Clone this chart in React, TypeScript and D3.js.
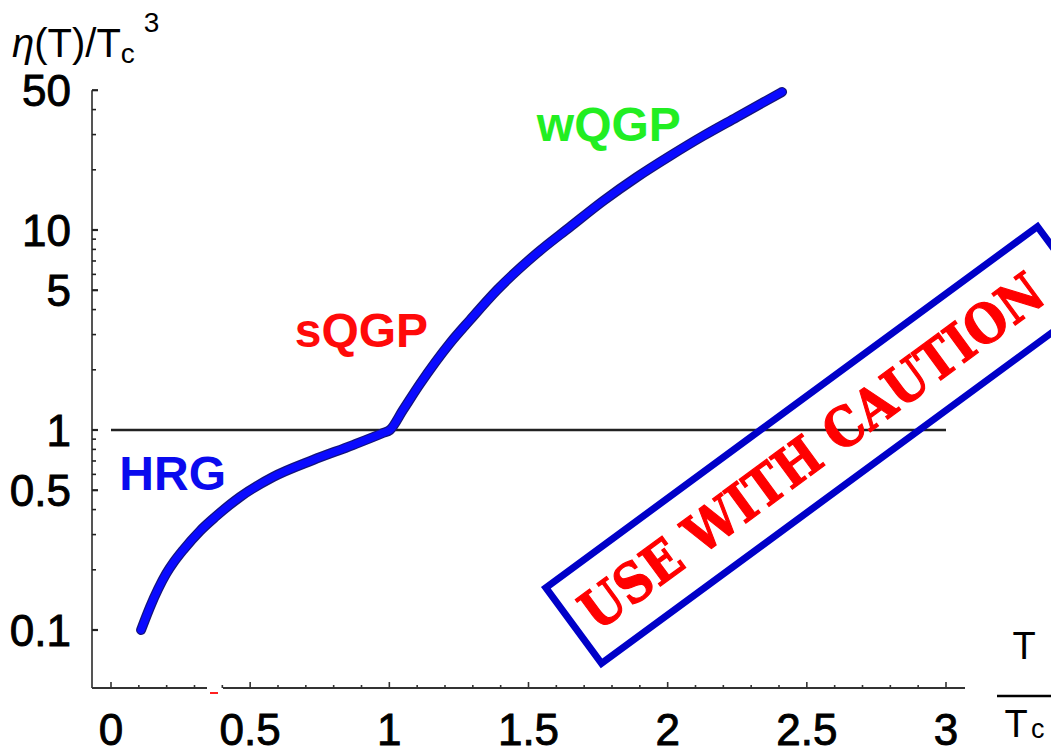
import React from "react";
import * as d3 from "d3";

const W = 1051;
const H = 754;

// curve eta(T)/Tc^3 vs T/Tc
const tValues = [0.108, 0.14, 0.169, 0.198, 0.226, 0.259, 0.32, 0.374, 0.463, 0.582, 0.726, 0.869, 0.977, 1.002, 1.049, 1.11, 1.218, 1.29, 1.387, 1.531, 1.649, 1.768, 1.89, 2.008, 2.127, 2.249, 2.411];
const etaValues = [0.1, 0.13, 0.16, 0.191, 0.219, 0.251, 0.313, 0.367, 0.462, 0.582, 0.708, 0.841, 0.966, 1.0, 1.259, 1.698, 2.72, 3.55, 5.01, 7.67, 10.35, 13.96, 18.41, 23.44, 29.5, 36.7, 49.0];

const xTickLabels = [0, 0.5, 1, 1.5, 2, 2.5, 3];
const yTickLabels = [0.1, 0.5, 1, 5, 10, 50];
const yMinorTicks = [0.1, 0.2, 0.3, 0.4, 0.5, 0.6, 0.7, 0.8, 0.9, 1, 2, 3, 4, 5, 6, 7, 8, 9, 10, 20, 30, 40, 50];
const xMinorTicks = d3.range(0, 31).map((i) => i / 10);

const phaseLabels = [
  { text: "HRG", t: 0.03, eta: 0.5, color: "#0a0aee" },
  { text: "sQGP", t: 0.66, eta: 2.6, color: "#ff0a0a" },
  { text: "wQGP", t: 1.53, eta: 28, color: "#22ee22" },
];

export default function App() {
  const x = d3.scaleLinear().domain([0, 3]).range([111, 946]);
  const y = d3.scaleLog().domain([0.1, 50]).range([630, 630 - 200 * Math.log10(500)]);
  const axisX = 92;
  const axisY = 688;
  const data = tValues.map((t, i) => [t, etaValues[i]] as [number, number]);
  const line = d3
    .line<[number, number]>()
    .x((d) => x(d[0]))
    .y((d) => y(d[1]))
    .curve(d3.curveMonotoneX);
  const path = line(data) || "";
  const font = "'Liberation Sans', Arial, Helvetica, sans-serif";

  // caution stamp geometry
  const cx = 819.5;
  const cy = 445;
  const angle = -36.3;
  const bw = 610;
  const bh = 94;

  return (
    <svg
      width={W}
      height={H}
      style={{ position: "absolute", left: 0, top: 0, display: "block", background: "#fff" }}
    >
      {/* axes */}
      <line x1={axisX} y1={y(50)} x2={axisX} y2={axisY} stroke="#555" strokeWidth={2} />
      <line x1={axisX} y1={axisY} x2={207} y2={axisY} stroke="#333" strokeWidth={2} />
      <line x1={223} y1={axisY} x2={965} y2={axisY} stroke="#333" strokeWidth={2} />
      <line x1={210} y1={693} x2={218} y2={693} stroke="#ff2020" strokeWidth={2} />
      {yMinorTicks.map((v) => {
        const major = yTickLabels.includes(v);
        return (
          <line
            key={"yt" + v}
            x1={axisX}
            x2={axisX + (major ? 6 : 4)}
            y1={y(v)}
            y2={y(v)}
            stroke="#222"
            strokeWidth={major ? 2.2 : 1.6}
          />
        );
      })}
      {xMinorTicks.map((v) => {
        const major = Math.abs(v * 2 - Math.round(v * 2)) < 1e-6;
        return (
          <line
            key={"xt" + v}
            x1={x(v)}
            x2={x(v)}
            y1={axisY}
            y2={axisY - (major ? 6 : 3)}
            stroke="#333"
            strokeWidth={1.6}
          />
        );
      })}
      {yTickLabels.map((v) => (
        <text
          key={"yl" + v}
          x={71}
          y={y(v)}
          dy="0.36em"
          textAnchor="end"
          fontFamily={font}
          fontSize={44}
          fill="#000"
          stroke="#000"
          strokeWidth={0.9}
        >
          {String(v)}
        </text>
      ))}
      {xTickLabels.map((v) => (
        <text
          key={"xl" + v}
          x={x(v)}
          y={745}
          textAnchor="middle"
          fontFamily={font}
          fontSize={44}
          fill="#000"
          stroke="#000"
          strokeWidth={0.9}
        >
          {String(v)}
        </text>
      ))}

      {/* reference line eta = Tc^3 */}
      <line x1={x(0)} x2={x(3)} y1={y(1)} y2={y(1)} stroke="#222" strokeWidth={2.5} />

      {/* curve */}
      <path d={path} fill="none" stroke="#14147a" strokeWidth={10} strokeLinecap="round" strokeLinejoin="round" />
      <path d={path} fill="none" stroke="#0a0aff" strokeWidth={7.5} strokeLinecap="round" strokeLinejoin="round" />

      {/* phase labels */}
      {phaseLabels.map((p) => (
        <text
          key={p.text}
          x={x(p.t)}
          y={y(p.eta)}
          fontFamily={font}
          fontWeight="bold"
          fontSize={48}
          fill={p.color}
        >
          {p.text}
        </text>
      ))}

      {/* y axis title */}
      <text x={12} y={57} fontFamily={font} fontSize={40} fill="#000">
        <tspan fontStyle="italic">η</tspan>
        <tspan>(T)/T</tspan>
        <tspan fontSize={28} dy={6}>c</tspan>
        <tspan fontSize={28} dx={9} dy={-31}>3</tspan>
      </text>

      {/* x axis title */}
      <text x={1024} y={659} textAnchor="middle" fontFamily={font} fontSize={38} fill="#000">T</text>
      <line x1={997} x2={1051} y1={696} y2={696} stroke="#000" strokeWidth={2.5} />
      <text x={1016} y={737} textAnchor="middle" fontFamily={font} fontSize={38} fill="#000">T</text>
      <text x={1031} y={738} fontFamily={font} fontSize={27} fill="#000">c</text>

      {/* caution stamp */}
      <g transform={`translate(${cx},${cy}) rotate(${angle})`}>
        <rect x={-bw / 2} y={-bh / 2} width={bw} height={bh} fill="none" stroke="#0000c8" strokeWidth={7} />
        <text
          x={-10}
          y={0}
          dy="0.36em"
          textAnchor="middle"
          fontFamily="'DejaVu Serif', serif"
          fontWeight="bold"
          fontSize={54}
          fill="#ff0000"
          stroke="#ff0000"
          strokeWidth={1.2}
          textLength={560}
          lengthAdjust="spacingAndGlyphs"
        >
          USE WITH CAUTION
        </text>
      </g>
    </svg>
  );
}
